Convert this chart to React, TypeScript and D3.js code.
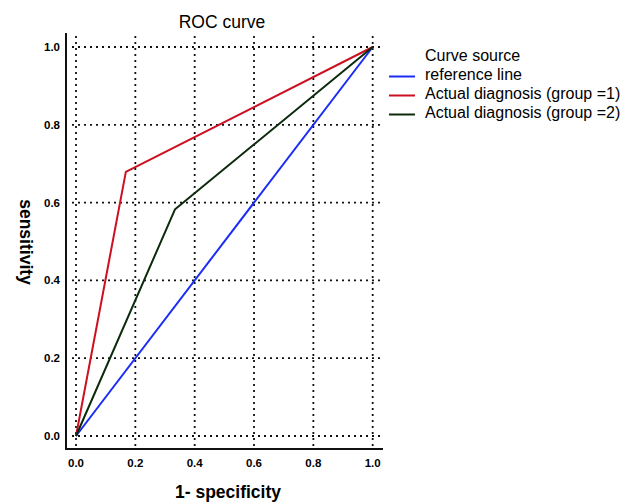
import React from 'react';
import * as d3 from 'd3';

// ROC points (1 - specificity, sensitivity)
const refX = [0, 1];
const refY = [0, 1];
const group1X = [0, 0.168, 1];
const group1Y = [0, 0.679, 1];
const group2X = [0, 0.334, 1];
const group2Y = [0, 0.583, 1];
const ticks = [0, 0.2, 0.4, 0.6, 0.8, 1.0];

const seriesNames = ['reference line', 'Actual diagnosis (group =1)', 'Actual diagnosis (group =2)'];
const seriesColors = ['#1a2cf5', '#cc1020', '#0c2a0c'];

const W = 638;
const H = 502;
const font = 'Liberation Sans, Arial, sans-serif';

const App: React.FC = () => {
  const x = d3.scaleLinear().domain([0, 1]).range([76, 372.7]);
  const y = d3.scaleLinear().domain([0, 1]).range([436, 47]);
  const line = d3.line<[number, number]>().x(d => x(d[0])).y(d => y(d[1]));

  const series = [
    refX.map((v, i) => [v, refY[i]] as [number, number]),
    group1X.map((v, i) => [v, group1Y[i]] as [number, number]),
    group2X.map((v, i) => [v, group2Y[i]] as [number, number]),
  ];

  const axisLeft = 66;
  const axisBottom = 449;
  const gridRight = 383;
  const gridTop = 36;

  return (
    <svg width={W} height={H} style={{ position: 'absolute', left: 0, top: 0 }} fontFamily={font}>
      <rect width={W} height={H} fill="#fff" />
      <text x={222} y={27.5} textAnchor="middle" fontSize={17.5}>ROC curve</text>

      {/* grid */}
      {ticks.map(t => (
        <line key={'h' + t} x1={axisLeft + 6} x2={gridRight} y1={y(t)} y2={y(t)}
          stroke="#111" strokeWidth={1.8} strokeDasharray="2,4" />
      ))}
      {ticks.map(t => (
        <line key={'v' + t} x1={x(t)} x2={x(t)} y1={gridTop} y2={axisBottom}
          stroke="#111" strokeWidth={1.8} strokeDasharray="2,4" />
      ))}

      {/* axes */}
      <line x1={axisLeft} x2={axisLeft} y1={33} y2={axisBottom + 1} stroke="#111" strokeWidth={2} />
      <line x1={axisLeft} x2={gridRight} y1={axisBottom} y2={axisBottom} stroke="#111" strokeWidth={2} />

      {ticks.map(t => (
        <text key={'yl' + t} x={60} y={y(t)} dy="0.35em" textAnchor="end" fontSize={11.5} fontWeight="bold">
          {t.toFixed(1)}
        </text>
      ))}
      {ticks.map(t => (
        <text key={'xl' + t} x={x(t)} y={463} dy="0.35em" textAnchor="middle" fontSize={11.5} fontWeight="bold">
          {t.toFixed(1)}
        </text>
      ))}

      <text x={228} y={497.5} textAnchor="middle" fontSize={17.5} fontWeight="bold">1- specificity</text>
      <text transform="translate(26,242) rotate(90)" textAnchor="middle" dy="0.35em" fontSize={17.5} fontWeight="bold">sensitivity</text>

      {/* curves */}
      {series.map((s, i) => (
        <path key={i} d={line(s) || ''} fill="none" stroke={seriesColors[i]} strokeWidth={2} strokeLinejoin="round" />
      ))}

      {/* legend */}
      <text x={425} y={61} fontSize={16}>Curve source</text>
      {seriesNames.map((n, i) => (
        <g key={n} transform={`translate(0,${76.5 + i * 19})`}>
          <line x1={389} x2={415} y1={0} y2={0} stroke={seriesColors[i]} strokeWidth={2} />
          <text x={425} y={3.5} fontSize={16}>{n}</text>
        </g>
      ))}
    </svg>
  );
};

export default App;
